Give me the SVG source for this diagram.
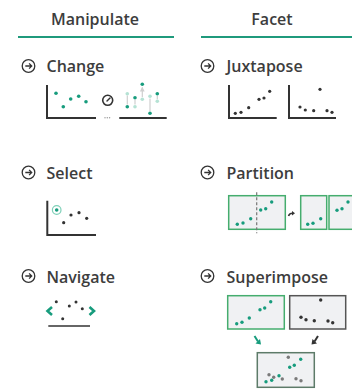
<svg xmlns="http://www.w3.org/2000/svg" width="352" height="391" viewBox="0 0 352 391">
  <style>
    .hdr { font-family: "Open Sans", "Liberation Sans", sans-serif; font-weight: 600; font-size: 16px; fill: #3d3d3d; text-anchor: middle; }
    .lbl { font-family: "Open Sans", "Liberation Sans", sans-serif; font-weight: 600; font-size: 16px; fill: #3d3d3d; }
    .rule { stroke: #1f9a7c; stroke-width: 2; }
    .axis { stroke: #333; stroke-width: 2; fill: none; }
    .icon { stroke: #333; stroke-width: 1.3; fill: none; }
    .t { fill: #179c7d; }
    .tl { fill: #b5e2d4; }
    .k { fill: #333; }
    .g { fill: #7a7a7a; }
    .panel { fill: #f0f1f3; stroke: #45ad6e; stroke-width: 1.5; }
    .panelk { fill: #f0f1f3; stroke: #555; stroke-width: 1.5; }
    .panelm { fill: #f0f1f3; stroke: #5d7b69; stroke-width: 1.5; }
    .move { stroke: #cfcfcf; stroke-width: 1.2; }
  </style>
  <defs>
    <g id="go">
      <circle r="6.3" class="icon"/>
      <path d="M-3.2 0 H3 M0.6 -2.6 L3.2 0 L0.6 2.6" class="icon"/>
    </g>
    <marker id="tip" viewBox="0 0 6 6" refX="5" refY="3" markerWidth="4" markerHeight="4" orient="auto">
      <path d="M0 0 L6 3 L0 6 z" fill="#cfcfcf"/>
    </marker>
  </defs>

  <!-- column headers -->
  <g id="header-manipulate">
    <text x="95" y="25" class="hdr">Manipulate</text>
    <line x1="18" y1="37" x2="174" y2="37" class="rule"/>
  </g>
  <g id="header-facet">
    <text x="272" y="25" class="hdr">Facet</text>
    <line x1="201" y1="37" x2="352" y2="37" class="rule"/>
  </g>

  <!-- Change -->
  <g id="change">
    <use href="#go" x="28.5" y="66"/>
    <text x="46.5" y="72" class="lbl">Change</text>
    <path d="M47 85 V118 H96" class="axis"/>
    <circle cx="56" cy="93.3" r="1.8" class="t"/>
    <circle cx="63.3" cy="106.7" r="1.8" class="t"/>
    <circle cx="70.7" cy="99" r="1.8" class="t"/>
    <circle cx="78.7" cy="96.3" r="1.8" class="t"/>
    <circle cx="86" cy="101.7" r="1.8" class="t"/>
    <!-- gauge -->
    <circle cx="107.7" cy="100.3" r="5" fill="none" stroke="#333" stroke-width="1.6"/>
    <line x1="107" y1="101" x2="110" y2="98" stroke="#333" stroke-width="1.4" stroke-linecap="round"/>
    <circle cx="105" cy="117.8" r="0.7" fill="#999"/>
    <circle cx="107.3" cy="117.8" r="0.7" fill="#999"/>
    <circle cx="109.6" cy="117.8" r="0.7" fill="#999"/>
    <line x1="119.3" y1="118" x2="166.7" y2="118" class="axis"/>
    <!-- old positions moving to new -->
    <line x1="127.3" y1="95.5" x2="127.3" y2="104.5" class="move"/>
    <line x1="135" y1="104.5" x2="135" y2="100" class="move"/>
    <line x1="142.3" y1="97" x2="142.3" y2="87.5" class="move" marker-end="url(#tip)"/>
    <line x1="150" y1="98.5" x2="150" y2="111" class="move"/>
    <line x1="157.3" y1="99.3" x2="157.3" y2="95.8" class="move"/>
    <circle cx="127.3" cy="93.7" r="1.8" class="tl"/>
    <circle cx="135" cy="106.7" r="1.8" class="tl"/>
    <circle cx="142.3" cy="99.3" r="1.8" class="tl"/>
    <circle cx="150" cy="96.3" r="1.8" class="tl"/>
    <circle cx="157.3" cy="101.3" r="1.8" class="tl"/>
    <circle cx="127.3" cy="106.7" r="1.8" class="t"/>
    <circle cx="135" cy="97.7" r="1.8" class="t"/>
    <circle cx="142.3" cy="84.3" r="1.8" class="t"/>
    <circle cx="150" cy="113.3" r="1.8" class="t"/>
    <circle cx="157.3" cy="93.7" r="1.8" class="t"/>
  </g>

  <!-- Juxtapose -->
  <g id="juxtapose">
    <use href="#go" x="207.5" y="66"/>
    <text x="226.5" y="72" class="lbl">Juxtapose</text>
    <path d="M229 85 V118 H276.7" class="axis"/>
    <circle cx="235.3" cy="113.3" r="1.6" class="k"/>
    <circle cx="241" cy="112.3" r="1.6" class="k"/>
    <circle cx="248.7" cy="107.7" r="1.6" class="k"/>
    <circle cx="259" cy="99.3" r="1.6" class="k"/>
    <circle cx="264" cy="98" r="1.6" class="k"/>
    <circle cx="269.7" cy="91.3" r="1.6" class="k"/>
    <path d="M289 85 V118 H336" class="axis"/>
    <circle cx="300" cy="107" r="1.6" class="k"/>
    <circle cx="305.3" cy="110" r="1.6" class="k"/>
    <circle cx="313.7" cy="110.7" r="1.6" class="k"/>
    <circle cx="320" cy="89.3" r="1.6" class="k"/>
    <circle cx="327" cy="110.7" r="1.6" class="k"/>
    <circle cx="332" cy="112.3" r="1.6" class="k"/>
  </g>

  <!-- Select -->
  <g id="select">
    <use href="#go" x="28.5" y="172.5"/>
    <text x="46.5" y="178.5" class="lbl">Select</text>
    <path d="M47.3 200.7 V235 H96" class="axis"/>
    <circle cx="56.7" cy="210" r="4.3" fill="none" stroke="#7fd0b8" stroke-width="1.2"/>
    <circle cx="56.7" cy="210" r="1.8" class="t"/>
    <circle cx="63.7" cy="222.7" r="1.6" class="k"/>
    <circle cx="71" cy="215" r="1.6" class="k"/>
    <circle cx="79" cy="212.7" r="1.6" class="k"/>
    <circle cx="86.7" cy="218.3" r="1.6" class="k"/>
  </g>

  <!-- Partition -->
  <g id="partition">
    <use href="#go" x="207.5" y="172.5"/>
    <text x="226.5" y="178.5" class="lbl">Partition</text>
    <rect x="228.7" y="195.7" width="56.6" height="33.6" class="panel"/>
    <line x1="256.7" y1="192.3" x2="256.7" y2="233.3" stroke="#777" stroke-width="1.2" stroke-dasharray="3 2"/>
    <circle cx="237.3" cy="224.3" r="1.7" class="t"/>
    <circle cx="243" cy="223" r="1.7" class="t"/>
    <circle cx="250.7" cy="218.7" r="1.7" class="t"/>
    <circle cx="260.7" cy="210" r="1.7" class="t"/>
    <circle cx="265.7" cy="208.7" r="1.7" class="t"/>
    <circle cx="271.7" cy="202" r="1.7" class="t"/>
    <path d="M288.5 216 Q289.5 213.2 292.5 213.2" fill="none" stroke="#333" stroke-width="1.5"/>
    <path d="M292 211 L295 213.2 L292 215.4 z" fill="#333"/>
    <rect x="300.7" y="195.7" width="26" height="33.6" class="panel"/>
    <circle cx="307.7" cy="224.3" r="1.7" class="t"/>
    <circle cx="313" cy="223.3" r="1.7" class="t"/>
    <circle cx="320.7" cy="218.7" r="1.7" class="t"/>
    <rect x="329" y="195.7" width="30" height="33.6" class="panel"/>
    <circle cx="337" cy="210.3" r="1.7" class="t"/>
    <circle cx="342" cy="208.7" r="1.7" class="t"/>
    <circle cx="348" cy="202" r="1.7" class="t"/>
  </g>

  <!-- Navigate -->
  <g id="navigate">
    <use href="#go" x="28.5" y="276"/>
    <text x="46.5" y="282.5" class="lbl">Navigate</text>
    <path d="M52 307 L47.5 311 L52 315" fill="none" stroke="#179c7d" stroke-width="2.6"/>
    <path d="M89.5 307 L94 311 L89.5 315" fill="none" stroke="#179c7d" stroke-width="2.6"/>
    <circle cx="56.3" cy="301.7" r="1.5" class="k"/>
    <circle cx="62.7" cy="318.7" r="1.5" class="k"/>
    <circle cx="69.3" cy="306" r="1.5" class="k"/>
    <circle cx="76" cy="302" r="1.5" class="k"/>
    <circle cx="82.3" cy="308.7" r="1.5" class="k"/>
    <line x1="48.3" y1="326" x2="90" y2="326" stroke="#333" stroke-width="1.5"/>
  </g>

  <!-- Superimpose -->
  <g id="superimpose">
    <use href="#go" x="207.5" y="276"/>
    <text x="226.5" y="282.5" class="lbl">Superimpose</text>
    <rect x="227.7" y="295.7" width="56.6" height="33.3" class="panel"/>
    <circle cx="236.7" cy="323.7" r="1.7" class="t"/>
    <circle cx="242" cy="322.3" r="1.7" class="t"/>
    <circle cx="249.3" cy="318" r="1.7" class="t"/>
    <circle cx="260" cy="309.7" r="1.7" class="t"/>
    <circle cx="264.7" cy="308" r="1.7" class="t"/>
    <circle cx="270.7" cy="301.7" r="1.7" class="t"/>
    <rect x="289.7" y="295.7" width="56" height="33.3" class="panelk"/>
    <circle cx="301" cy="317.3" r="1.7" class="k"/>
    <circle cx="306" cy="319.7" r="1.7" class="k"/>
    <circle cx="314.3" cy="320.7" r="1.7" class="k"/>
    <circle cx="320.7" cy="300" r="1.7" class="k"/>
    <circle cx="328" cy="321" r="1.7" class="k"/>
    <circle cx="332.7" cy="322.7" r="1.7" class="k"/>
    <!-- merge arrows -->
    <line x1="254.5" y1="336" x2="258" y2="341.5" stroke="#179c7d" stroke-width="2"/>
    <path d="M255.5 343.5 L261 344.5 L260 339 z" fill="#179c7d"/>
    <line x1="318" y1="336" x2="314.5" y2="341.5" stroke="#333" stroke-width="2"/>
    <path d="M317 343.5 L311.5 344.5 L312.5 339 z" fill="#333"/>
    <rect x="257.3" y="352.7" width="57" height="34.6" class="panelm"/>
    <circle cx="288.3" cy="357.3" r="1.7" class="g"/>
    <circle cx="269" cy="374.7" r="1.7" class="g"/>
    <circle cx="273.7" cy="377.3" r="1.7" class="g"/>
    <circle cx="282.3" cy="379" r="1.7" class="g"/>
    <circle cx="296" cy="378.7" r="1.7" class="g"/>
    <circle cx="301" cy="380.7" r="1.7" class="g"/>
    <circle cx="300.7" cy="359.3" r="1.7" class="t"/>
    <circle cx="294.3" cy="365.3" r="1.7" class="t"/>
    <circle cx="289.7" cy="367.3" r="1.7" class="t"/>
    <circle cx="279" cy="375.7" r="1.7" class="t"/>
    <circle cx="271.7" cy="380.3" r="1.7" class="t"/>
    <circle cx="266" cy="381.7" r="1.7" class="t"/>
  </g>
</svg>
